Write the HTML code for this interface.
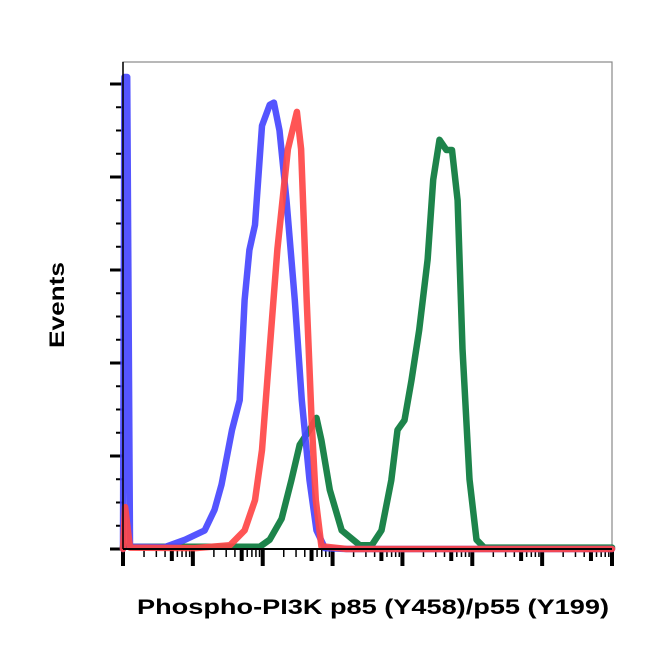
<!DOCTYPE html>
<html><head><meta charset="utf-8"><style>
html,body{margin:0;padding:0;background:#fff;}
svg{display:block;}
text{font-family:"Liberation Sans",Arial,sans-serif;font-weight:bold;fill:#000;}
</style></head><body>
<svg id="chart" width="652" height="652" viewBox="0 0 652 652">
<rect x="123" y="62" width="489" height="487" fill="#fff" stroke="#888" stroke-width="1.2"/>
<g id="yticks"></g>
<g id="xticks"></g>
<g id="series"></g>
<line x1="123" y1="549" x2="612" y2="549" stroke="#000" stroke-width="2"/>
<line x1="123" y1="62" x2="123" y2="549" stroke="#000" stroke-width="1.5"/>
<text x="0" y="0" transform="translate(64,305) rotate(-90)" text-anchor="middle" font-size="21" textLength="86" lengthAdjust="spacingAndGlyphs">Events</text>
<text x="137" y="614" font-size="21" textLength="472" lengthAdjust="spacingAndGlyphs">Phospho-PI3K p85 (Y458)/p55 (Y199)</text>
</svg>
<script>
// x in log decades (0..7), y in relative counts (0..100)
const blueX = [0,0.02,0.06,0.1,0.6,0.89,1.17,1.31,1.41,1.56,1.67,1.74,1.81,1.89,1.99,2.1,2.16,2.24,2.34,2.46,2.56,2.67,2.77,2.89,3.2,7];
const blueY = [0,101.5,101.5,0.5,0.4,2,4,8.4,13.8,25.6,32,53.5,64.3,69.7,91,95.5,96,90,75,53.5,32,14.8,4,0.2,0,0];
const redX = [0,0.03,0.1,1.03,1.53,1.74,1.89,1.99,2.1,2.21,2.36,2.49,2.55,2.63,2.7,2.76,2.84,3.2,7];
const redY = [0,9,0.3,0.2,0.8,4,10.5,21.3,43,64.5,86,94,86,53.5,27.7,10.5,0.6,0,0];
const greenX = [0,1.96,2.1,2.27,2.41,2.53,2.67,2.77,2.84,2.96,3.13,3.39,3.56,3.7,3.84,3.93,4.03,4.13,4.24,4.36,4.44,4.53,4.63,4.71,4.79,4.86,4.96,5.06,5.17,7];
const greenY = [0.5,0.5,2,6.5,14.8,22.4,25.6,28.2,23.4,12.7,4,0.8,0.8,4,14.8,25.6,27.7,36.3,47.1,62.2,79.4,88,85.8,85.8,75,43,15,2,0.3,0.3];
const majorY = [0,20,40,60,80,100];
const decades = [0,1,2,3,4,5,6,7];
const minorMult = [2,3,4,5,6,7,8,9];

const NS='http://www.w3.org/2000/svg';
const X0=123,X1=612,Y0=549,PX_PER_UNIT=4.65;
function sx(v){return X0+(X1-X0)*v/7;}
function sy(v){return Y0-v*PX_PER_UNIT;}
function mk(tag,attrs,parent){const e=document.createElementNS(NS,tag);for(const k in attrs)e.setAttribute(k,attrs[k]);parent.appendChild(e);return e;}

const yt=document.getElementById('yticks');
majorY.forEach((v,i)=>{
  const t=mk('line',{x1:110,x2:123,y1:sy(v),y2:sy(v),stroke:'#000','stroke-width':3},yt);
  
  
  if(i<majorY.length-1){
    for(let k=1;k<4;k++){
      const m=mk('line',{x1:116,x2:123,y1:sy(v+5*k),y2:sy(v+5*k),stroke:'#000','stroke-width':2},yt);
      
      
    }
  }
});
const xt=document.getElementById('xticks');
decades.forEach((d,i)=>{
  const t=mk('line',{x1:sx(d),x2:sx(d),y1:549,y2:566,stroke:'#000','stroke-width':4},xt);
  
  
  if(i<decades.length-1){
    minorMult.forEach(m=>{
      const x=sx(d+Math.log10(m));
      const isFive=m===5;
      const l=mk('line',{x1:x,x2:x,y1:549,y2:isFive?561:557,stroke:'#000','stroke-width':isFive?4:1.5},xt);
      
      
    });
  }
});

const sg=document.getElementById('series');
function drawSeries(xs,ys,color,name){
  const d=xs.map((x,i)=>(i?'L':'M')+sx(x).toFixed(1)+','+sy(ys[i]).toFixed(1)).join(' ');
  const p=mk('path',{d:d,fill:'none',stroke:color,'stroke-width':6.5,'stroke-linejoin':'round','stroke-linecap':'round','stroke-opacity':0.92},sg);
  
  
}
drawSeries(greenX,greenY,'#0a7a3c','green-histogram');
drawSeries(blueX,blueY,'#4646ff','blue-histogram');
drawSeries(redX,redY,'#ff4646','red-histogram');
</script>
</body></html>
